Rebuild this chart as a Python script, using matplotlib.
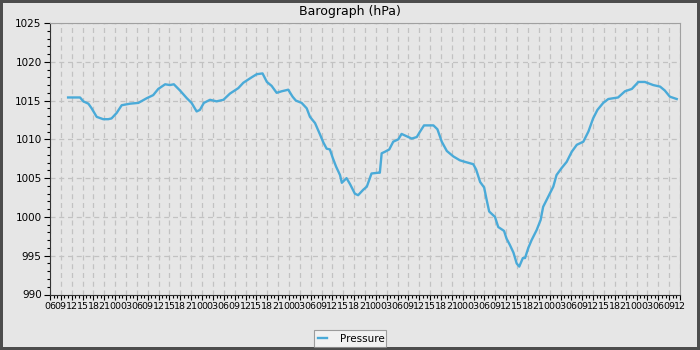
import matplotlib
matplotlib.use("Agg")
import matplotlib.pyplot as plt
from matplotlib.ticker import MultipleLocator, FuncFormatter

# hours since 06:00 on the first day, and pressure in hPa
START_HOUR = 6
hours = [5.0, 8.3, 9.2, 10.6, 11.5, 12.9, 14.7, 16.1, 17.0, 18.4, 19.8, 22.1,
         24.4, 26.7, 28.5, 29.9, 31.8, 33.1, 34.2, 35.9, 37.8, 39.1, 40.5,
         41.4, 42.5, 44.2, 46.0, 47.9, 49.7, 52.0, 53.4, 55.7, 57.1, 58.7,
         59.9, 61.2, 62.6, 64.0, 65.8, 67.0, 67.9, 69.5, 70.9, 71.8, 73.2,
         74.6, 75.5, 76.4, 77.3, 78.1, 79.0, 80.1, 80.6, 81.9, 82.9, 84.2,
         85.1, 86.5, 87.5, 88.8, 90.7, 91.1, 91.6, 92.5, 93.7, 94.8, 96.2,
         97.1, 98.5, 99.9, 101.3, 102.2, 103.3, 105.9, 107.0, 108.2, 109.6,
         111.4, 113.2, 114.6, 116.9, 117.7, 118.8, 119.9, 120.6, 121.3,
         122.9, 123.8, 125.4, 126.1, 127.0, 128.0, 128.9, 129.6, 130.6,
         131.2, 132.1, 133.0, 134.4, 135.5, 136.2, 137.6, 139.0, 139.9,
         141.3, 142.7, 144.1, 145.5, 147.3, 148.7, 150.0, 151.2, 152.8,
         154.2, 156.9, 158.8, 160.7, 162.5, 164.3, 166.6, 168.5, 169.8,
         171.2, 173.1]
pressure = [1015.4, 1015.4, 1014.9, 1014.6, 1014.0, 1012.9, 1012.6, 1012.6,
            1012.7, 1013.4, 1014.4, 1014.6, 1014.7, 1015.3, 1015.7, 1016.5,
            1017.1, 1017.0, 1017.1, 1016.3, 1015.3, 1014.7, 1013.6, 1013.8,
            1014.7, 1015.1, 1014.9, 1015.1, 1015.9, 1016.6, 1017.3, 1018.0,
            1018.4, 1018.5, 1017.4, 1016.9, 1016.0, 1016.2, 1016.4, 1015.5,
            1015.0, 1014.7, 1014.0, 1012.9, 1012.1, 1010.6, 1009.6, 1008.8,
            1008.7, 1007.6, 1006.5, 1005.4, 1004.4, 1005.0, 1004.2, 1003.0,
            1002.8, 1003.5, 1003.9, 1005.6, 1005.7, 1005.7, 1008.2, 1008.4,
            1008.7, 1009.7, 1010.0, 1010.7, 1010.4, 1010.1, 1010.3, 1011.0,
            1011.8, 1011.8, 1011.3, 1009.7, 1008.5, 1007.8, 1007.3, 1007.1,
            1006.8, 1006.1, 1004.5, 1003.8, 1002.2, 1000.7, 1000.0, 998.7,
            998.2, 997.2, 996.4, 995.4, 994.0, 993.6, 994.7, 994.7, 996.0,
            997.0, 998.3, 999.6, 1001.3, 1002.6, 1003.9, 1005.4, 1006.3,
            1007.1, 1008.4, 1009.3, 1009.7, 1011.0, 1012.7, 1013.8, 1014.7,
            1015.2, 1015.4, 1016.2, 1016.5, 1017.4, 1017.4, 1017.0, 1016.8,
            1016.3, 1015.5, 1015.2]

BG = "#e6e6e6"
LINE = "#4aaad8"

fig = plt.figure(figsize=(7, 3.5), dpi=100, facecolor=BG,
                 edgecolor="#4d4d4d", linewidth=4.2)
ax = fig.add_axes([50 / 700, 1 - 294.5 / 350, 630 / 700, 271.5 / 350])
ax.set_facecolor(BG)

ax.plot(hours, pressure, color=LINE, linewidth=1.7, label="Pressure")

ax.set_xlim(0, 174)
ax.set_ylim(990, 1025)

ax.xaxis.set_major_locator(MultipleLocator(3))
ax.xaxis.set_minor_locator(MultipleLocator(1))
ax.xaxis.set_major_formatter(
    FuncFormatter(lambda h, pos: "%02d" % ((START_HOUR + int(round(h))) % 24)))
ax.yaxis.set_major_locator(MultipleLocator(5))
ax.yaxis.set_minor_locator(MultipleLocator(1))

ax.grid(True, which="major", color="#c2c2c2", linestyle=(0, (4, 3)),
        linewidth=0.9)
ax.set_axisbelow(True)

for side in ("top", "right"):
    ax.spines[side].set_color("#a0a0a0")
for side in ("left", "bottom"):
    ax.spines[side].set_color("#333333")
ax.tick_params(axis="y", which="major", length=4, width=0.8, labelsize=7.5,
               pad=2)
ax.tick_params(axis="y", which="minor", length=2.5, width=0.8)
ax.tick_params(axis="x", which="major", length=3.5, width=0.8, labelsize=6.8,
               pad=2)
ax.tick_params(axis="x", which="minor", length=2.5, width=0.8)

fig.text(0.5, 1 - 11 / 350, "Barograph (hPa)", ha="center", va="center",
         fontsize=9)

leg = fig.legend(loc="center", bbox_to_anchor=(0.5, 1 - 338.5 / 350),
                 fontsize=7.5, frameon=True, fancybox=False, handlelength=0.9,
                 handletextpad=1.0, borderpad=0.35, borderaxespad=0)
leg.get_frame().set_facecolor("#f4f4f4")
leg.get_frame().set_edgecolor("#888888")
leg.get_frame().set_linewidth(0.8)
for txt in leg.get_texts():
    txt.set_x(2)

fig.savefig("out.png", dpi=100, facecolor=BG, edgecolor="#4d4d4d")
